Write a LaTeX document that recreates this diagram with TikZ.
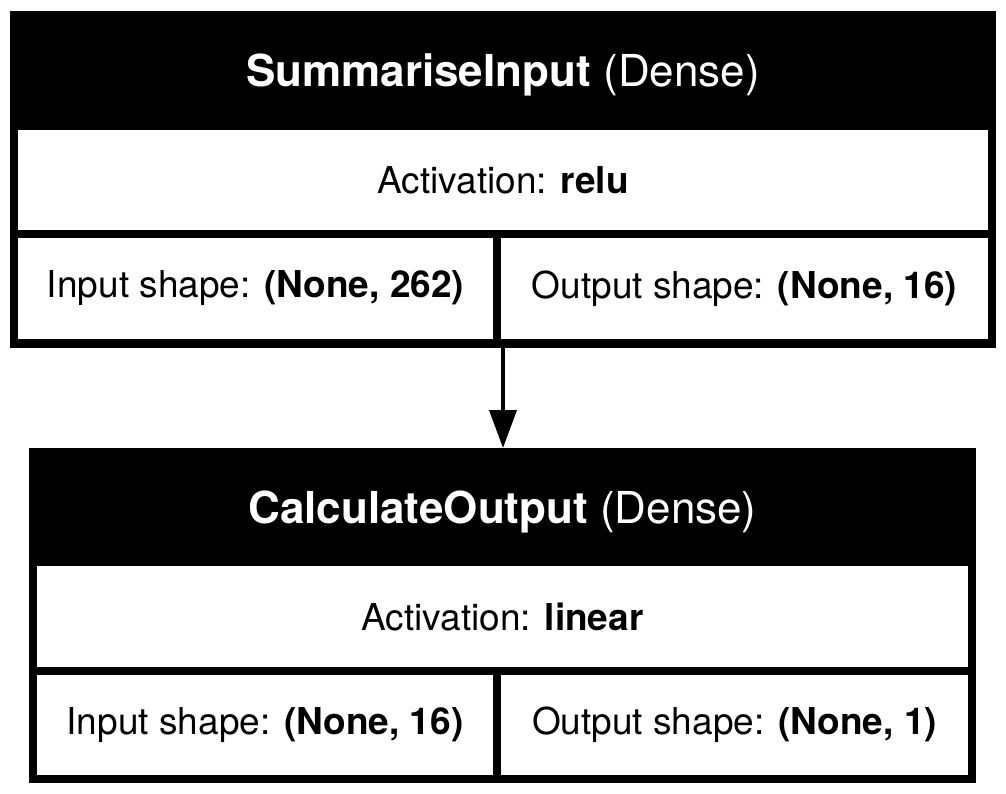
\documentclass[tikz,border=0pt]{standalone}
\usepackage{fontspec}
\setmainfont{TeX Gyre Heros}
\usetikzlibrary{arrows.meta}
\newcommand{\titlefont}{\fontsize{44}{51}\selectfont}
\newcommand{\bodyfont}{\fontsize{37}{44}\selectfont}
\begin{document}
\begin{tikzpicture}[x=1pt,y=-1pt,
  layerbox/.style={fill=black,draw=none,inner sep=0pt,outer sep=0pt,anchor=north west},
  cellbox/.style={fill=white,draw=none,inner sep=0pt,outer sep=0pt,anchor=north west,font=\bodyfont},
  titletext/.style={text=white,inner sep=0pt,font=\titlefont},
  cellbody/.style={inner sep=0pt,font=\bodyfont},
  flow/.style={line width=4pt,-{Triangle[width=27pt,length=38pt]}}
]
\useasboundingbox (0,0) rectangle (1006,794);
% top layer
\node[layerbox,minimum width=986pt,minimum height=337pt] (top) at (10,11) {};
\node[titletext] (toptitle) at (503,75) {\textbf{SummariseInput} (Dense)};
\node[cellbox,minimum width=970pt,minimum height=100pt] (topact) at (18,130) {};
\node[cellbody] (topacttext) at (topact.center) {Activation: \textbf{relu}};
\node[cellbox,minimum width=475pt,minimum height=101pt] (topin) at (18,238) {};
\node[cellbody] (topintext) at (topin.center) {Input shape: \textbf{(None, 262)}};
\node[cellbox,minimum width=487pt,minimum height=101pt] (topout) at (501,238) {};
\node[cellbody] (topouttext) at (topout.center) {Output shape: \textbf{(None, 16)}};
% bottom layer
\node[layerbox,minimum width=947pt,minimum height=335pt] (bot) at (29,448) {};
\node[titletext] (bottitle) at (502.5,512) {\textbf{CalculateOutput} (Dense)};
\node[cellbox,minimum width=931pt,minimum height=101pt] (botact) at (37,566) {};
\node[cellbody] (botacttext) at (botact.center) {Activation: \textbf{linear}};
\node[cellbox,minimum width=456pt,minimum height=100pt] (botin) at (37,675) {};
\node[cellbody] (botintext) at (botin.center) {Input shape: \textbf{(None, 16)}};
\node[cellbox,minimum width=467pt,minimum height=100pt] (botout) at (501,675) {};
\node[cellbody] (botouttext) at (botout.center) {Output shape: \textbf{(None, 1)}};
% connector
\draw[flow] (top.south) -- (top.south |- bot.north);
\end{tikzpicture}
\end{document}
